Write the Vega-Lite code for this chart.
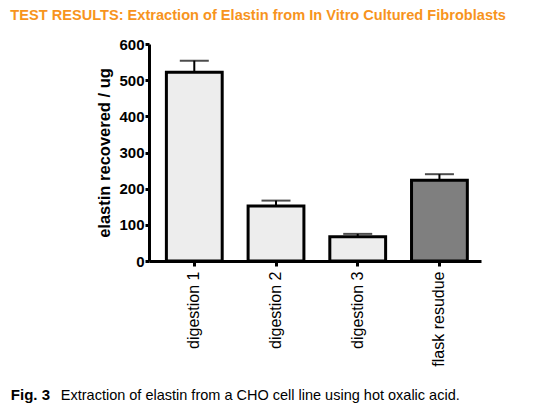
{
  "$schema": "https://vega.github.io/schema/vega-lite/v6.json",
  "description": "Elastin recovered from in vitro cultured fibroblasts, by extraction step.",
  "width": 332,
  "height": 217,
  "padding": {"left": 10, "top": 8, "right": 5, "bottom": 5},
  "background": "white",
  "title": {
    "text": "TEST RESULTS: Extraction of Elastin from In Vitro Cultured Fibroblasts",
    "anchor": "start",
    "frame": "bounds",
    "font": "Liberation Sans",
    "fontSize": 14.6,
    "fontWeight": "bold",
    "color": "#F7941D",
    "offset": 14
  },
  "config": {
    "view": {"stroke": null},
    "font": "Liberation Sans",
    "axis": {
      "grid": false,
      "domainColor": "black",
      "domainWidth": 3,
      "tickColor": "black",
      "tickWidth": 3,
      "labelColor": "black",
      "titleColor": "black",
      "labelFont": "Liberation Sans",
      "titleFont": "Liberation Sans",
      "labelOverlap": false
    }
  },
  "data": {
    "values": [
      {"step": "digestion 1", "elastin": 522, "upper": 554},
      {"step": "digestion 2", "elastin": 152, "upper": 167},
      {"step": "digestion 3", "elastin": 67, "upper": 75},
      {"step": "flask resudue", "elastin": 223, "upper": 240}
    ]
  },
  "layer": [
    {
      "mark": {"type": "bar", "stroke": "black", "strokeWidth": 3},
      "encoding": {
        "x": {
          "field": "step",
          "type": "nominal",
          "sort": null,
          "scale": {"paddingInner": 0.317, "paddingOuter": 0.19, "align": 0.56},
          "axis": {
            "orient": "bottom",
            "title": "Extraction of elastin from a CHO cell line using hot oxalic acid.",
            "titleX": -88.7,
            "titleY": 138,
            "titleAlign": "left",
            "titleBaseline": "alphabetic",
            "titleFontWeight": "normal",
            "titleFontSize": 14.5,
            "labelAngle": 270,
            "labelAlign": "right",
            "labelBaseline": "middle",
            "labelFontSize": 16,
            "labelPadding": 5,
            "tickSize": 5
          }
        },
        "y": {
          "field": "elastin",
          "type": "quantitative",
          "scale": {"domain": [0, 600], "nice": false},
          "axis": {
            "title": "elastin recovered / ug",
            "values": [0, 100, 200, 300, 400, 500, 600],
            "labelFontWeight": "bold",
            "labelFontSize": 15,
            "labelPadding": 1,
            "tickSize": 4,
            "titleFontSize": 16.5,
            "titleFontWeight": "bold",
            "titlePadding": 6
          }
        },
        "fill": {
          "field": "step",
          "type": "nominal",
          "scale": {
            "domain": ["digestion 1", "digestion 2", "digestion 3", "flask resudue"],
            "range": ["#ededed", "#ededed", "#ededed", "#7f7f7f"]
          },
          "legend": null
        }
      }
    },
    {
      "mark": {"type": "rule", "color": "black", "strokeWidth": 2},
      "encoding": {
        "x": {
          "field": "step",
          "type": "nominal",
          "sort": null,
          "axis": {
            "orient": "bottom",
            "title": "Fig. 3",
            "titleX": -138.7,
            "titleY": 138,
            "titleAlign": "left",
            "titleBaseline": "alphabetic",
            "titleFontWeight": "bold",
            "titleFontSize": 15,
            "labels": false,
            "ticks": false,
            "domain": false
          }
        },
        "y": {"field": "elastin", "type": "quantitative", "axis": null},
        "y2": {"field": "upper"}
      }
    },
    {
      "mark": {"type": "tick", "color": "black", "thickness": 2, "size": 29},
      "encoding": {
        "x": {"field": "step", "type": "nominal", "sort": null, "axis": null},
        "y": {"field": "upper", "type": "quantitative", "axis": null}
      }
    }
  ],
  "resolve": {"axis": {"x": "independent", "y": "independent"}}
}
